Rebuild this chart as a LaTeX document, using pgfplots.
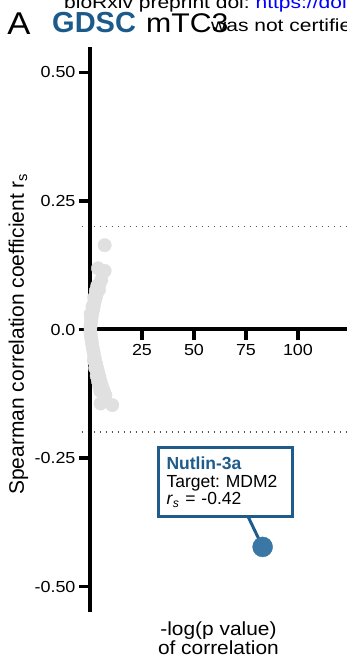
\documentclass[border=0pt]{standalone}
\usepackage{fontspec}
\setmainfont{Liberation Sans}
\newfontfamily\wf{Liberation Sans}[FakeStretch=1.12]
\newfontfamily\xf{Liberation Sans}[FakeStretch=1.1]
\newfontfamily\wwf{Liberation Sans}[FakeStretch=1.2]
\usepackage{pgfplots}
\usepackage{pgfplotstable}
\pgfplotsset{compat=1.18}
\frenchspacing
\definecolor{gdscblue}{HTML}{1B5A8A}
\definecolor{boxblue}{HTML}{1F5C8B}
\definecolor{ptblue}{HTML}{3A77A5}
\definecolor{ptgray}{HTML}{E0E0E0}
\definecolor{dotgray}{HTML}{555555}

\pgfplotstableread{
x y
0.2 0.005
0.4 0.012
0.6 0.018
0.8 0.024
1.0 0.030
1.3 0.036
1.6 0.042
1.9 0.048
2.2 0.054
2.6 0.060
3.0 0.066
3.4 0.072
4.3 0.077
5.4 0.096
3.85 0.119
7.05 0.114
7.05 0.164
0.5 0.025
1.2 0.045
2.0 0.062
2.8 0.075
0.3 0.030
3.5 0.085
4.5 0.088
0.2 -0.005
0.4 -0.012
0.7 -0.020
1.0 -0.028
1.3 -0.036
1.7 -0.044
2.1 -0.052
2.5 -0.060
3.0 -0.068
3.5 -0.076
4.0 -0.084
4.5 -0.092
5.0 -0.100
5.6 -0.108
6.2 -0.116
6.8 -0.122
7.4 -0.128
2.5 -0.075
3.2 -0.090
3.8 -0.100
4.4 -0.110
5.0 -0.120
1.8 -0.060
5.1 -0.144
10.7 -0.147
}\graydata

\begin{document}
\begin{tikzpicture}
\useasboundingbox (0,0) rectangle (347pt,657pt);
\begin{scope}
\clip (0,0) rectangle (347pt,657pt);
\node[anchor=base west, inner sep=0, font=\wwf\fontsize{17.5}{17.5}\selectfont] at (64pt,648.7pt) {bioRxiv preprint doi: \textcolor{blue}{https://doi.org/10.1101/2020.10.21.349183}};
\node[anchor=base west, inner sep=0, font=\xf\fontsize{31.5}{31.5}\selectfont] at (7.3pt,622.7pt) {A};
\node[anchor=base west, inner sep=0, font=\bfseries\fontsize{29}{29}\selectfont, text=gdscblue] at (52pt,624.7pt) {GDSC};
\node[anchor=base west, inner sep=0, font=\wf\fontsize{27}{27}\selectfont] at (146pt,624.7pt) {mTC3};
\node[anchor=base west, inner sep=0, font=\wwf\fontsize{17.5}{17.5}\selectfont] at (211pt,625pt) {was not certified by peer review};

\begin{axis}[
  at={(90pt,44.8pt)}, anchor=south west,
  scale only axis, width=257.9pt, height=565.4pt,
  xmin=0, xmax=124, ymin=-0.55, ymax=0.55,
  axis x line=middle, axis y line=left,
  axis line style={line width=4pt, -},
  axis on top, clip=false,
  xtick={25,50,75,100}, xticklabels={25,50,75,100},
  ytick={-0.5,-0.25,0,0.25,0.5}, yticklabels={-0.50,-0.25,0.0,0.25,0.50},
  tick align=outside, major tick length=11pt,
  tick style={line width=3.5pt, black},
  minor tick num=0,
  tick label style={font=\wf\fontsize{16}{16}\selectfont},
  ylabel={Spearman correlation coefficient r\textsubscript{s}},
  ylabel style={font=\fontsize{21}{21}\selectfont, at={(axis description cs:-0.277,0.492)}, anchor=center},
  xlabel={-log(p value)\\of correlation},
  xlabel style={font=\xf\fontsize{19}{13.5}\selectfont, align=center, at={(axis description cs:0.498,-0.0165)}, anchor=north, inner sep=0pt},
]
\addplot[only marks, mark=*, mark size=6.7pt, color=ptgray, draw=ptgray, fill=ptgray, mark options={draw=ptgray, fill=ptgray}] table {\graydata};
\addplot[dotgray, line width=1.6pt, dash pattern=on 1.6pt off 4.4pt] coordinates {(-4,0.2) (124,0.2)};
\addplot[dotgray, line width=1.6pt, dash pattern=on 1.6pt off 4.4pt] coordinates {(-4,-0.2) (124,-0.2)};
\addplot[boxblue, line width=3pt] coordinates {(76,-0.364) (83,-0.423)};
\addplot[only marks, mark=*, mark size=10pt, color=ptblue, mark options={draw=ptblue, fill=ptblue}] coordinates {(83,-0.423)};
\node[draw=boxblue, line width=3pt, anchor=north west, inner xsep=8.5pt, inner ysep=9pt, text width=117pt, align=left, fill=white, font=\fontsize{17.5}{17.5}\selectfont] at (axis cs:32,-0.2276) {\textbf{\textcolor{boxblue}{Nutlin-3a}}\\Target: MDM2\\\textit{r}\textsubscript{\textit{s}} = -0.42};
\end{axis}
\end{scope}
\end{tikzpicture}
\end{document}
